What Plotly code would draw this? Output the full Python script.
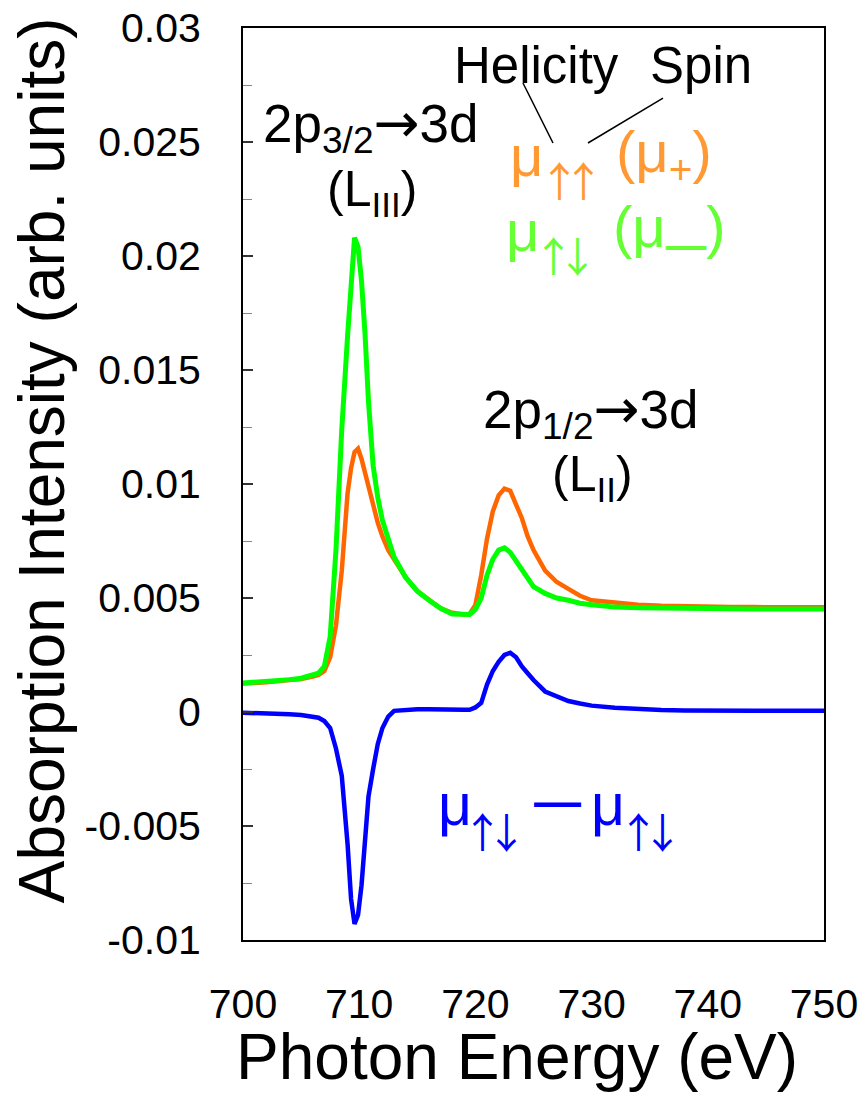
import plotly.graph_objects as go

# ---------------- data ----------------
energy = [700, 702, 704, 705, 706, 706.5, 707, 707.5, 708, 708.5, 709, 709.3, 709.6,
          709.9, 710.2, 710.5, 710.8, 711.2, 711.6, 712, 712.5, 713, 714, 715, 716,
          717, 718, 719, 719.5, 720, 720.5, 721, 721.5, 722, 722.5, 723, 723.5, 724,
          724.5, 725, 726, 727, 728, 729, 730, 732, 734, 736, 738, 740, 742, 744,
          746, 748, 750]

mu_plus = [0.00125, 0.0013, 0.0014, 0.00145, 0.00155, 0.00163, 0.0018, 0.0024, 0.0038,
           0.0062, 0.0096, 0.0107, 0.0114, 0.01155, 0.0111, 0.0105, 0.0098, 0.0090,
           0.0083, 0.0077, 0.0071, 0.0067, 0.0059, 0.0053, 0.0049, 0.00455, 0.00435,
           0.00428, 0.0043, 0.0047, 0.0060, 0.0076, 0.0088, 0.0095, 0.0098, 0.0097,
           0.0091, 0.0085, 0.0077, 0.0071, 0.0062, 0.0057, 0.0054, 0.0051, 0.0049,
           0.0048, 0.0047, 0.00466, 0.00463, 0.00462, 0.00461, 0.0046, 0.0046, 0.0046,
           0.00459]

mu_minus = [0.00127, 0.00133, 0.00142, 0.00148, 0.0016, 0.0017, 0.0020, 0.0033, 0.0071,
            0.0124, 0.0165, 0.0188, 0.0208, 0.0204, 0.0189, 0.0166, 0.0136, 0.0108,
            0.0094, 0.0084, 0.0075, 0.0068, 0.0059, 0.0053, 0.0049, 0.00455, 0.0043,
            0.00425, 0.00428, 0.0045, 0.0050, 0.0060, 0.0067, 0.0071, 0.0072, 0.0070,
            0.0066, 0.0063, 0.0059, 0.0055, 0.0052, 0.0050, 0.0049, 0.00477, 0.0047,
            0.0046, 0.00457, 0.00455, 0.00453, 0.00452, 0.00452, 0.00452, 0.00452,
            0.00452, 0.00452]

mu_diff = [-0.00003, -0.00005, -0.0001, -0.00013, -0.0002, -0.00025, -0.0004, -0.0007,
           -0.0016, -0.0028, -0.0058, -0.0082, -0.0093, -0.0089, -0.0076, -0.0056,
           -0.0037, -0.0025, -0.0014, -0.0007, -0.0002, 0.00005, 0.0001, 0.00012,
           0.00012, 0.0001, 0.0001, 0.0001, 0.0001, 0.0002, 0.0004, 0.0012, 0.0018,
           0.0022, 0.0025, 0.0026, 0.0024, 0.0020, 0.0017, 0.0014, 0.0009, 0.00067,
           0.00048, 0.00037, 0.00028, 0.00019, 0.00012, 0.00009, 0.00007, 0.00005,
           0.00005, 0.00005, 0.00005, 0.00005, 0.00005]

y_tickvals = [0.03, 0.025, 0.02, 0.015, 0.01, 0.005, 0, -0.005, -0.01]
y_ticktext = ["0.03", "0.025", "0.02", "0.015", "0.01", "0.005", "0", "-0.005", "-0.01"]
x_tickvals = [700, 710, 720, 730, 740, 750]
x_ticktext = ["700", "710", "720", "730", "740", "750"]

FONT = "Liberation Sans, Arial, sans-serif"
CJK = "Noto Sans CJK JP"

ORANGE_TXT = "#FF9933"
GREEN_TXT = "#66FF33"
BLUE_TXT = "#0000FF"


def arrow(s):
    return '<span style="font-family:DejaVu Sans;font-size:55px">%s</span>' % s


def spin(a, b):
    return '<span style="letter-spacing:-17px">%s</span>%s' % (a, b)


fig = go.Figure()
fig.add_trace(go.Scatter(x=energy, y=mu_diff, mode="lines",
                         line=dict(color="#0000FF", width=4.5), name="diff"))
fig.add_trace(go.Scatter(x=energy, y=mu_plus, mode="lines",
                         line=dict(color="#FF6600", width=4.5), name="mu+"))
fig.add_trace(go.Scatter(x=energy, y=mu_minus, mode="lines",
                         line=dict(color="#00FF00", width=5), name="mu-"))

fig.update_layout(
    width=863, height=1094,
    margin=dict(l=243, r=39, t=28, b=154, autoexpand=False),
    paper_bgcolor="white", plot_bgcolor="white",
    showlegend=False,
    font=dict(family=FONT, color="black"),
)

fig.update_xaxes(
    range=[700, 750], showgrid=False, zeroline=False, automargin=False,
    showline=True, linecolor="black", linewidth=2, mirror=True,
    ticks="", tickvals=x_tickvals, ticktext=x_ticktext,
    tickfont=dict(size=41, family=FONT, color="black"),
    ticklabelstandoff=27,
)
fig.update_yaxes(
    range=[-0.01, 0.03], showgrid=False, zeroline=False, automargin=False,
    showline=True, linecolor="black", linewidth=2, mirror=True,
    ticks="inside", ticklen=10, tickwidth=1.5, tickcolor="#333333",
    tickvals=y_tickvals, ticktext=y_ticktext,
    tickfont=dict(size=41, family=FONT, color="black"),
    ticklabelstandoff=32,
    minor=dict(ticks="inside", ticklen=9, tickwidth=1.2, tickcolor="#888888", dtick=0.0025),
)

ann = []


def add(text, x, y, size, color="black", xanchor="center", yanchor="middle",
        xref="x", yref="y", angle=0, family=FONT):
    ann.append(dict(text=text, x=x, y=y, xref=xref, yref=yref, showarrow=False,
                    xanchor=xanchor, yanchor=yanchor, textangle=angle,
                    font=dict(size=size, color=color, family=family)))


add("2p<sub>3/2</sub>" + arrow("→") + "3d", 711.0, 0.02572, 53)
add("(L<sub>III</sub>)", 711.14, 0.02279, 50)
add("2p<sub>1/2</sub>" + arrow("→") + "3d", 729.95, 0.01314, 53)
add("(L<sub>II</sub>)", 730.08, 0.01029, 50)
add("Helicity", 725.22, 0.02836, 51)
add("Spin", 739.41, 0.02836, 51)

# mu_up-up (mu+)
add("μ", 722.8, 0.02439, 58, color=ORANGE_TXT, xanchor="left")
add(spin("↑", "↑"), 725.29, 0.023368, 41, color=ORANGE_TXT, xanchor="left", family=CJK)
add("(μ<sub>+</sub>)", 731.93, 0.02439, 58, color=ORANGE_TXT, xanchor="left")
# mu_up-down (mu-)
add("μ", 722.46, 0.02110, 58, color=GREEN_TXT, xanchor="left")
add(spin("↑", "↓"), 724.78, 0.020079, 41, color=GREEN_TXT, xanchor="left", family=CJK)
add("(μ<sub><b>—</b></sub>)", 731.67, 0.02110, 58, color=GREEN_TXT, xanchor="left")
# difference label
add("μ", 716.61, -0.00408, 59, color=BLUE_TXT, xanchor="left")
add(spin("↑", "↓"), 718.71, -0.005184, 41, color=BLUE_TXT, xanchor="left", family=CJK)
add("<b>—</b>", 727.07, -0.003877, 47, color=BLUE_TXT)
add("μ", 729.78, -0.00408, 59, color=BLUE_TXT, xanchor="left")
add(spin("↑", "↓"), 732.14, -0.005184, 41, color=BLUE_TXT, xanchor="left", family=CJK)

add("Absorption Intensity (arb. units)", -0.346, 0.526, 64, xref="paper", yref="paper", angle=-90)
add("Photon Energy (eV)", 0.4716, -0.128, 64, xref="paper", yref="paper")
fig.update_layout(annotations=ann)

# leader lines from "Helicity" / "Spin" to the arrows
fig.add_shape(type="line", xref="paper", yref="paper", x0=0.4819, y0=0.9397, x1=0.5336, y1=0.8739,
              line=dict(color="black", width=1.5))
fig.add_shape(type="line", xref="paper", yref="paper", x0=0.7229, y0=0.9232, x1=0.5938, y1=0.8739,
              line=dict(color="black", width=1.5))

fig.write_html("out.html")
